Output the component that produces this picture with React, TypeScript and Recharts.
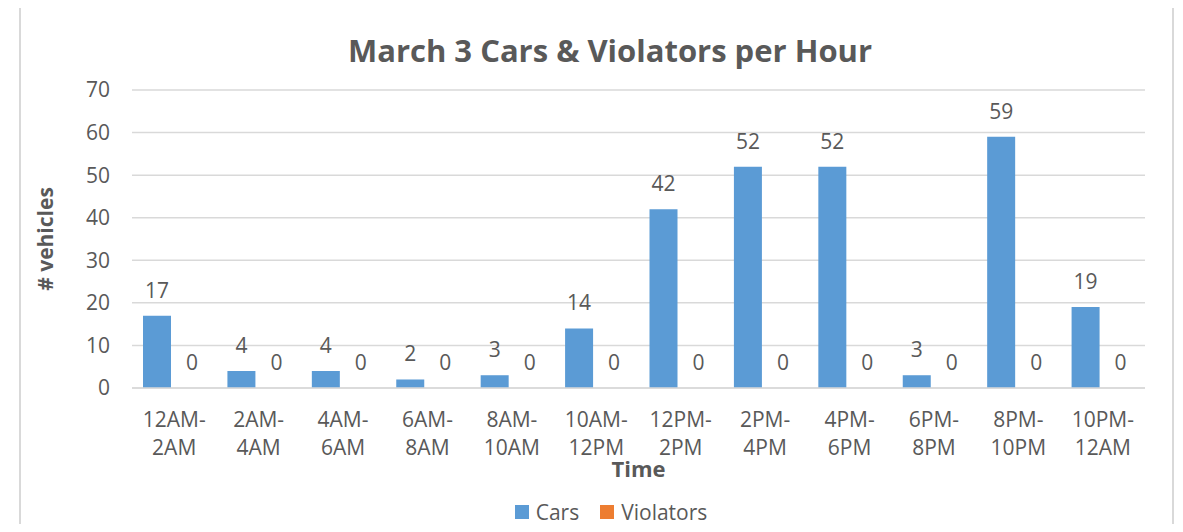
import React from 'react'
import { BarChart, Bar, XAxis, YAxis, CartesianGrid, Legend, LabelList, Label } from 'recharts'

const timeSlots = [
  '12AM-2AM', '2AM-4AM', '4AM-6AM', '6AM-8AM', '8AM-10AM', '10AM-12PM',
  '12PM-2PM', '2PM-4PM', '4PM-6PM', '6PM-8PM', '8PM-10PM', '10PM-12AM',
]
const cars = [17, 4, 4, 2, 3, 14, 42, 52, 52, 3, 59, 19]
const violators = [0, 0, 0, 0, 0, 0, 0, 0, 0, 0, 0, 0]
const yTicks = [0, 10, 20, 30, 40, 50, 60, 70]

const data = timeSlots.map((slot, i) => ({ slot, cars: cars[i], violators: violators[i] }))

const FONT = '"Open Sans", "Segoe UI", sans-serif'
const TEXT = '#595959'
const GRID = '#D9D9D9'
const BAR_GAP = 7
const LABEL_OFFSET = 18

// two-line category label, split after the hyphen
const SlotTick = (props: any) => {
  const { x, y, payload } = props
  const v: string = payload.value
  const cut = v.indexOf('-') + 1
  return (
    <g>
      <text x={x} y={y + 39} textAnchor="middle" fill={TEXT} fontSize={21} fontFamily={FONT}>
        {v.slice(0, cut)}
      </text>
      <text x={x} y={y + 67} textAnchor="middle" fill={TEXT} fontSize={21} fontFamily={FONT}>
        {v.slice(cut)}
      </text>
    </g>
  )
}

// zero-height violator bars get no label from recharts, so put it beside the cars bar
const ViolatorLabel = (props: any) => {
  const { x, y, width, height, index } = props
  const cx = x + width + BAR_GAP + width / 2
  const base = y + height - LABEL_OFFSET
  return (
    <text x={cx} y={base} textAnchor="middle" fill={TEXT} fontSize={21} fontFamily={FONT}>
      {violators[index]}
    </text>
  )
}

const YTitle = (props: any) => {
  const vb = props.viewBox
  const cx = vb.x + 45
  const cy = vb.y + vb.height / 2
  return (
    <text
      x={cx}
      y={cy}
      transform={`rotate(-90 ${cx} ${cy})`}
      textAnchor="middle"
      dominantBaseline="central"
      fill={TEXT}
      fontSize={21}
      fontWeight="bold"
      fontFamily={FONT}
    >
      # vehicles
    </text>
  )
}

const LegendBox = (props: any) => {
  const items = props.payload || []
  return (
    <div style={{ display: 'flex', justifyContent: 'center', fontFamily: FONT, fontSize: 21, color: TEXT }}>
      {items.map((it: any) => (
        <div key={it.value} style={{ display: 'flex', alignItems: 'center', marginRight: 21 }}>
          <span style={{ display: 'inline-block', width: 14, height: 14, background: it.color, marginRight: 7 }} />
          <span>{it.value}</span>
        </div>
      ))}
    </div>
  )
}

const App: React.FC = () => {
  return (
    <div style={{ position: 'relative', margin: -8, width: 1183, height: 532, overflow: 'hidden', background: '#fff' }}>
      <div
        style={{
          position: 'absolute',
          left: 19,
          top: 5,
          width: 1155,
          height: 560,
          border: `2px solid ${GRID}`,
          boxSizing: 'border-box',
        }}
      />
      <div
        style={{
          position: 'absolute',
          top: 29,
          left: 0,
          width: 1220,
          textAlign: 'center',
          fontFamily: FONT,
          fontWeight: 'bold',
          fontSize: 31,
          color: TEXT,
        }}
      >
        March 3 Cars &amp; Violators per Hour
      </div>
      <BarChart
        width={1183}
        height={532}
        data={data}
        margin={{ top: 90, right: 38, left: 0, bottom: 0 }}
        barCategoryGap={11}
        barGap={BAR_GAP}
        style={{ position: 'absolute', left: 0, top: 0 }}
      >
        <CartesianGrid vertical={false} stroke={GRID} strokeWidth={1.5} />
        <XAxis
          dataKey="slot"
          height={110}
          interval={0}
          tickLine={false}
          tickSize={0}
          tickMargin={0}
          axisLine={{ stroke: GRID, strokeWidth: 1.5 }}
          tick={<SlotTick />}
        >
          <Label
            value="Time"
            position="insideBottom"
            offset={21}
            fill={TEXT}
            fontSize={22}
            fontWeight="bold"
            fontFamily={FONT}
          />
        </XAxis>
        <YAxis
          width={132}
          domain={[0, 70]}
          ticks={yTicks}
          axisLine={false}
          tickLine={false}
          tickSize={0}
          tickMargin={22}
          tick={{ fill: TEXT, fontSize: 21, fontFamily: FONT }}
          label={<YTitle />}
        />
        <Legend
          verticalAlign="bottom"
          height={34}
          content={<LegendBox />}
          wrapperStyle={{ left: 30, width: 1183 }}
        />
        <Bar dataKey="cars" name="Cars" fill="#5B9BD5" isAnimationActive={false}>
          <LabelList dataKey="cars" position="top" offset={LABEL_OFFSET} fill={TEXT} fontSize={21} fontFamily={FONT} />
          <LabelList dataKey="violators" content={<ViolatorLabel />} />
        </Bar>
        <Bar dataKey="violators" name="Violators" fill="#ED7D31" isAnimationActive={false} />
      </BarChart>
    </div>
  )
}

export default App
